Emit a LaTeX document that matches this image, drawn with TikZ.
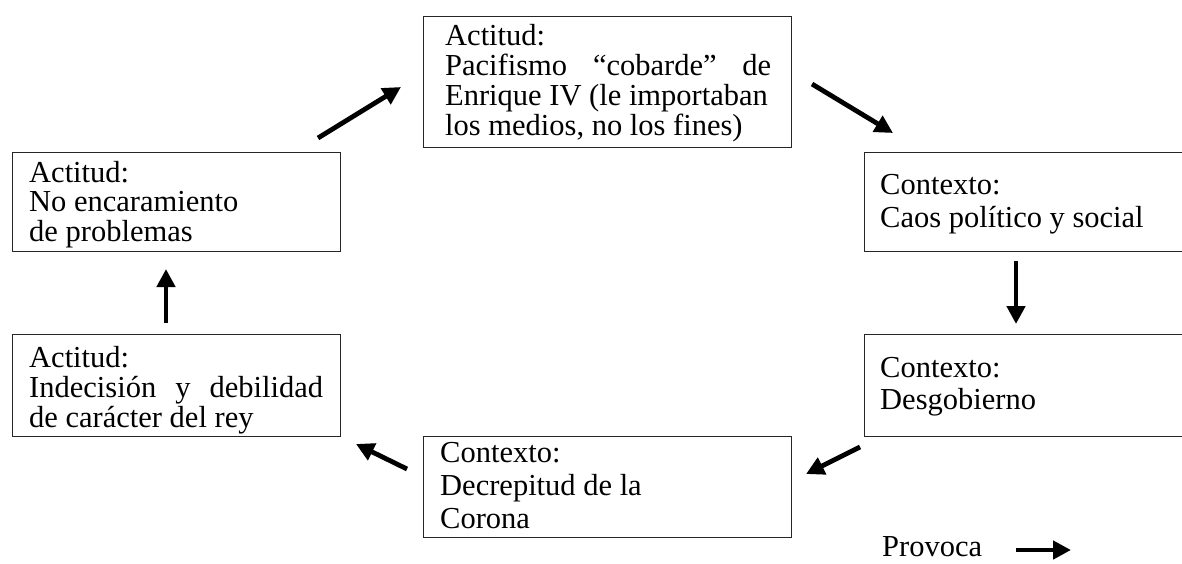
\documentclass[tikz,border=0pt]{standalone}
\usepackage{fontspec}
\setmainfont{Liberation Serif}
\usetikzlibrary{arrows.meta}
\tikzset{
  box/.style={draw=black!85, line width=1.2pt, inner sep=0pt, anchor=north west},
  txt/.style={inner sep=0pt, anchor=base west, text=black},
  arr/.style={line width=4.8pt, -{Triangle[length=18pt,width=18pt]}},
}
\begin{document}
\begin{tikzpicture}[x=1pt,y=-1pt]
\clip (0,0) rectangle (1182,563);
\fill[white] (0,0) rectangle (1182,563);
% boxes
\node[box, minimum width=368pt, minimum height=131pt] (btop) at (423,16) {};
\node[box, minimum width=328pt, minimum height=99pt] (blt) at (12,152) {};
\node[box, minimum width=328pt, minimum height=102pt] (blb) at (12,334) {};
\node[box, minimum width=368pt, minimum height=101pt] (bdec) at (423,436) {};
\node[box, minimum width=330pt, minimum height=99pt] (bcaos) at (864,152) {};
\node[box, minimum width=330pt, minimum height=102pt] (bdes) at (864,334) {};
% texts
\node[txt, font=\fontsize{30.5}{30}\selectfont] (ttop) at (445,45)
  {\parbox[t]{326pt}{\raggedright Actitud:\\
   \makebox[\linewidth][s]{Pacifismo “cobarde” de}\\
   Enrique IV (le importaban\\
   los medios, no los fines)}};
\node[txt, font=\fontsize{30.5}{29.5}\selectfont] (tlt) at (29,182)
  {\parbox[t]{300pt}{\raggedright Actitud:\\ No encaramiento\\ de problemas}};
\node[txt, font=\fontsize{30.5}{30}\selectfont] (tlb) at (29,367)
  {\parbox[t]{294pt}{\raggedright Actitud:\\
   \makebox[\linewidth][s]{Indecisión y debilidad}\\
   de carácter del rey}};
\node[txt, font=\fontsize{30.5}{33}\selectfont] (tcaos) at (880,194)
  {\parbox[t]{300pt}{\raggedright Contexto:\\ Caos político y social}};
\node[txt, font=\fontsize{30.5}{32}\selectfont] (tdes) at (880,377)
  {\parbox[t]{300pt}{\raggedright Contexto:\\ Desgobierno}};
\node[txt, font=\fontsize{30.5}{33}\selectfont] (tdec) at (440,462)
  {\parbox[t]{330pt}{\raggedright Contexto:\\ Decrepitud de la\\ Corona}};
\node[txt, font=\fontsize{30.5}{30}\selectfont] (tprov) at (882,556) {Provoca};
% arrow end points
\coordinate (a1s) at (318,138); \coordinate (a1e) at (401,87);
\coordinate (a2s) at (812,84);  \coordinate (a2e) at (893,133);
\coordinate (a3s) at (1016,261); \coordinate (a3e) at (1016,324);
\coordinate (a4s) at (860,447); \coordinate (a4e) at (806,474);
\coordinate (a5s) at (407,469); \coordinate (a5e) at (356,444);
\coordinate (a6s) at (166,323); \coordinate (a6e) at (166,269);
\coordinate (lgs) at (1016,550); \coordinate (lge) at (1071,550);
\draw[arr] (a1s) -- (a1e);
\draw[arr] (a2s) -- (a2e);
\draw[arr] (a3s) -- (a3e);
\draw[arr] (a4s) -- (a4e);
\draw[arr] (a5s) -- (a5e);
\draw[arr] (a6s) -- (a6e);
\draw[arr] (lgs) -- (lge);
\end{tikzpicture}
\end{document}
